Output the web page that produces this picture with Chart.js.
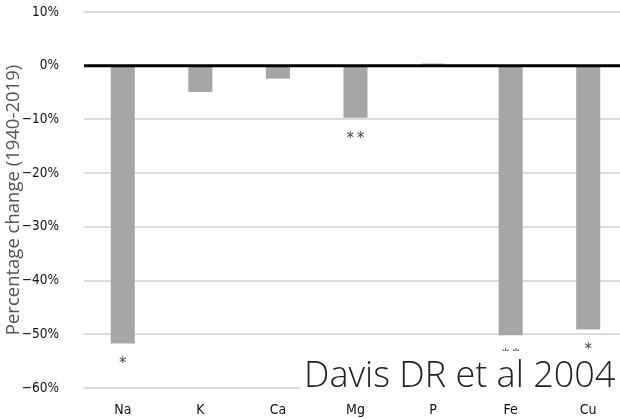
<!DOCTYPE html>
<html>
<head>
<meta charset="utf-8">
<script src="https://cdn.jsdelivr.net/npm/chart.js@4/dist/chart.umd.min.js"></script>
<style>
  html, body { margin: 0; padding: 0; background: #ffffff; overflow: hidden; width: 620px; height: 419px; }
  #wrap { width: 630px; height: 419px; position: relative; }
</style>
</head>
<body>
<div id="wrap"><canvas id="c" width="630" height="419"></canvas></div>
<script>
// ---- data ----
const categories = ["Na", "K", "Ca", "Mg", "P", "Fe", "Cu"];
const percentChange = [-51.7, -4.9, -2.4, -9.7, 0.4, -50.2, -49.1];
const significance = ["*", "", "", "**", "", "**", "*"];
const yTickValues = [10, 0, -10, -20, -30, -40, -50, -60];
const yTitle = "Percentage change (1940-2019)";
const sourceNote = "Davis DR et al 2004";

function fmtPct(v) {
  return (v < 0 ? "\u2212" + Math.abs(v) : String(v)) + "%";
}

const overlay = {
  id: "overlay",
  afterDatasetsDraw(chart) {
    const { ctx, chartArea, scales } = chart;
    const x = scales.x, y = scales.y;
    const y0 = y.getPixelForValue(0);
    ctx.save();
    ctx.strokeStyle = "#000000";
    ctx.lineWidth = 3;
    ctx.beginPath();
    ctx.moveTo(chartArea.left, y0);
    ctx.lineTo(chartArea.right, y0);
    ctx.stroke();
    ctx.fillStyle = "#444444";
    ctx.font = "15px 'DejaVu Sans'";
    ctx.textAlign = "center";
    ctx.textBaseline = "middle";
    significance.forEach((s, i) => {
      if (!s) return;
      const px = x.getPixelForValue(i);
      const py = y.getPixelForValue(percentChange[i]) + 21;
      ctx.fillText(s.split("").join("\u2009"), px, py);
    });
    ctx.restore();
  },
  afterDraw(chart) {
    const { ctx } = chart;
    ctx.save();
    ctx.fillStyle = "#ffffff";
    ctx.fillRect(300, 351, 330, 44);
    ctx.fillStyle = "#222222";
    ctx.font = "300 36px 'Open Sans'";
    ctx.textAlign = "left";
    ctx.textBaseline = "alphabetic";
    ctx.fillText(sourceNote, 304, 387);
    ctx.restore();
  }
};

new Chart(document.getElementById("c"), {
  type: "bar",
  data: {
    labels: categories,
    datasets: [{
      data: percentChange,
      backgroundColor: "#a6a6a6",
      borderWidth: 0,
      barPercentage: 0.31,
      categoryPercentage: 1.0
    }]
  },
  options: {
    responsive: false,
    animation: false,
    devicePixelRatio: 1,
    layout: { padding: { top: 12, right: 3, left: 0, bottom: 0 } },
    plugins: { legend: { display: false }, tooltip: { enabled: false } },
    scales: {
      x: {
        grid: { display: false, drawTicks: false },
        border: { display: false },
        ticks: {
          padding: 14,
          color: "#111111",
          font: { family: "'DejaVu Sans Condensed', 'DejaVu Sans'", size: 14 }
        },
        afterFit(scale) { scale.height = 31; scale.paddingLeft = 0; scale.paddingRight = 0; }
      },
      y: {
        min: -60,
        max: 10,
        afterBuildTicks(scale) { scale.ticks = yTickValues.map(v => ({ value: v })); },
        grid: {
          drawTicks: false,
          color: ctx => (ctx.tick && ctx.tick.value === 0) ? "rgba(0,0,0,0)" : "#dcdcdc",
          lineWidth: 2
        },
        border: { display: false },
        ticks: {
          padding: 25,
          color: "#111111",
          font: { family: "'DejaVu Sans Condensed', 'DejaVu Sans'", size: 13.5 },
          callback: v => fmtPct(v)
        },
        title: {
          display: true,
          text: yTitle,
          color: "#555555",
          font: { family: "'Open Sans'", size: 18.5 },
          padding: { top: 3, bottom: 0 }
        },
        afterFit(scale) { scale.width = 84; scale.paddingTop = 0; scale.paddingBottom = 0; }
      }
    }
  },
  plugins: [overlay]
});
</script>
</body>
</html>
